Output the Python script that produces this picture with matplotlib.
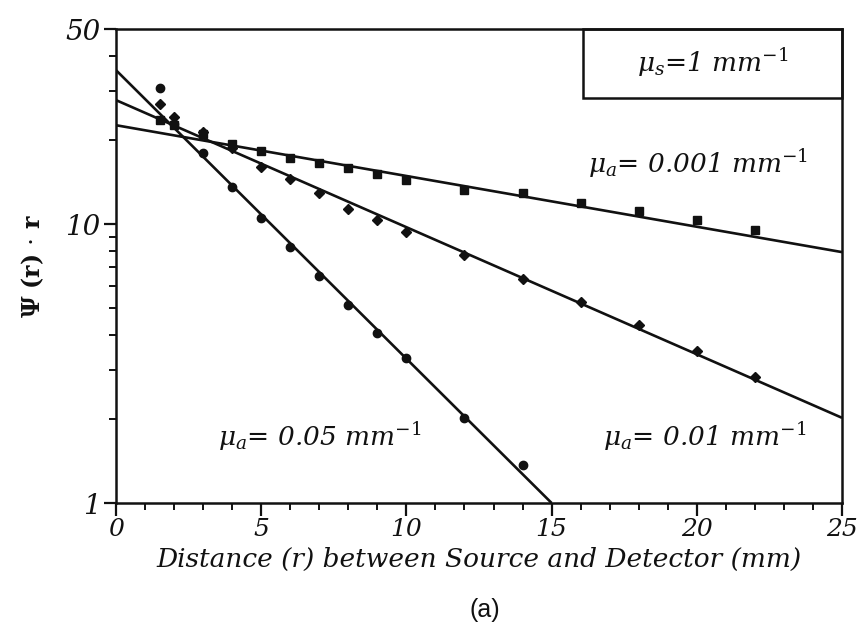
import numpy as np
import matplotlib
matplotlib.use("Agg")
import matplotlib.pyplot as plt
from matplotlib.ticker import FixedLocator, NullFormatter

# ---- data ----
x_sq = [1.5, 2, 3, 4, 5, 6, 7, 8, 9, 10, 12, 14, 16, 18, 20, 22]
y_sq = [23.6, 22.6, 21.0, 19.3, 18.3, 17.2, 16.5, 15.9, 15.1, 14.4, 13.2, 12.9, 11.9, 11.1, 10.3, 9.5]

x_di = [1.5, 2, 3, 4, 5, 6, 7, 8, 9, 10, 12, 14, 16, 18, 20, 22]
y_di = [26.9, 24.2, 21.4, 18.7, 16.0, 14.5, 12.9, 11.3, 10.3, 9.36, 7.74, 6.35, 5.25, 4.35, 3.51, 2.83]

x_ci = [1.5, 2, 3, 4, 5, 6, 7, 8, 9, 10, 12, 14]
y_ci = [30.7, 22.8, 17.9, 13.6, 10.5, 8.27, 6.51, 5.12, 4.07, 3.31, 2.02, 1.37]

# fitted lines (endpoints)
fit_001_x = [0, 25]
fit_001_y = [22.6, 7.93]
fit_01_x = [0, 25]
fit_01_y = [27.8, 2.02]
fit_05_x = [0, 15]
fit_05_y = [35.6, 1.0]

xticks = [0, 5, 10, 15, 20, 25]
yticks = [1, 10, 50]

plt.rcParams['mathtext.fontset'] = 'dejavuserif'

fig = plt.figure(figsize=(8.57, 6.36), dpi=100)
ax = fig.add_axes([116/857, 1 - 503/636, 726/857, 474/636])
ax.set_yscale('log')
ax.set_xlim(0, 25)
ax.set_ylim(1, 50)

lc = '#111111'
for fx, fy in [(fit_001_x, fit_001_y), (fit_01_x, fit_01_y), (fit_05_x, fit_05_y)]:
    ax.plot(fx, fy, color=lc, lw=1.9, solid_capstyle='butt')

ax.plot(x_sq, y_sq, linestyle='none', marker='s', ms=5.5, color=lc)
ax.plot(x_di, y_di, linestyle='none', marker='D', ms=5.5, color=lc)
ax.plot(x_ci, y_ci, linestyle='none', marker='o', ms=6, color=lc)

for s in ax.spines.values():
    s.set_linewidth(1.8)
    s.set_color(lc)

ax.xaxis.set_major_locator(FixedLocator(xticks))
ax.xaxis.set_minor_locator(FixedLocator(np.arange(0, 26, 1)))
ax.yaxis.set_major_locator(FixedLocator(yticks))
minor_y = [2, 3, 4, 5, 6, 7, 8, 9, 20, 30, 40]
ax.yaxis.set_minor_locator(FixedLocator(minor_y))
ax.yaxis.set_minor_formatter(NullFormatter())
ax.set_xticklabels([str(v) for v in xticks])
ax.set_yticklabels([str(v) for v in yticks])

ax.tick_params(axis='both', which='major', direction='out', length=9, width=1.6, color=lc,
               labelsize=20, pad=2)
ax.tick_params(axis='x', which='major', labelsize=18)
ax.tick_params(axis='both', which='minor', direction='out', length=5, width=1.4, color=lc)
for lab in ax.get_xticklabels() + ax.get_yticklabels():
    lab.set_fontfamily('DejaVu Serif')
    lab.set_fontstyle('italic')
    lab.set_color(lc)

ax.set_xlabel('Distance (r) between Source and Detector (mm)', fontsize=19,
              family='DejaVu Serif', style='italic', color=lc, labelpad=4)
ax.set_ylabel(r'$\mathbf{\Psi}$ (r) $\cdot$ r', fontsize=17, family='DejaVu Serif',
              weight='bold', color=lc, labelpad=14)

fig.text(485/857, 1 - 610/636, '(a)', fontsize=18, family='Liberation Sans',
         ha='center', va='center', color=lc)

kw = dict(fontsize=19, family='DejaVu Serif', style='italic', color=lc)

texts = [
    (r'$\mu_a$= 0.001 mm$^{-1}$', 588, 173),
    (r'$\mu_a$= 0.05 mm$^{-1}$', 218, 446),
    (r'$\mu_a$= 0.01 mm$^{-1}$', 603, 446),
]
for s, px, py in texts:
    ax.text((px - 116) / 726, (503 - py) / 474, s, transform=ax.transAxes,
            ha='left', va='baseline', **kw)

# box with mu_s
bx0, bx1, by0, by1 = 583, 842, 29, 98
rect = plt.Rectangle(((bx0 - 116) / 726, (503 - by1) / 474), (bx1 - bx0) / 726, (by1 - by0) / 474,
                     transform=ax.transAxes, fill=False, lw=1.8, edgecolor=lc, clip_on=False)
ax.add_patch(rect)
ax.text(((bx0 + bx1) / 2 - 116) / 726, (503 - 63) / 474, r'$\mu_s$=1 mm$^{-1}$',
        transform=ax.transAxes, ha='center', va='center', **kw)

fig.savefig('out.png', dpi=100)
